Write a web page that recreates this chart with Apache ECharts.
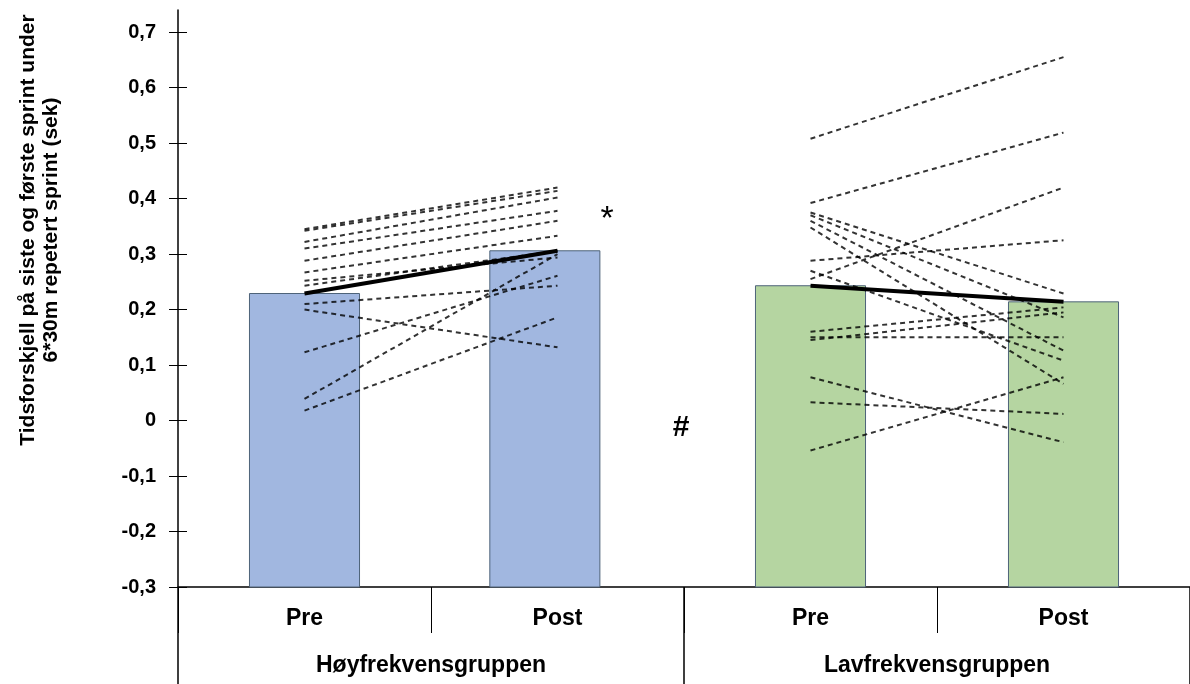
<!DOCTYPE html>
<html>
<head>
<meta charset="utf-8">
<script src="https://cdn.jsdelivr.net/npm/echarts@6/dist/echarts.min.js"></script>
<style>
  html, body { margin: 0; padding: 0; background: #ffffff; }
  #chart { width: 1190px; height: 684px; }
</style>
</head>
<body>
<div id="chart"></div>
<script>
// Sprint-time difference (last minus first sprint, 6*30 m RSA), pre vs post, two training groups
const categories = ['Pre', 'Post', 'Pre', 'Post'];
const groups = ['Høyfrekvensgruppen', 'Lavfrekvensgruppen'];
const yTicks = [-0.3, -0.2, -0.1, 0, 0.1, 0.2, 0.3, 0.4, 0.5, 0.6, 0.7];

// group means: Høy pre, Høy post, Lav pre, Lav post
const groupMeans = [0.229, 0.306, 0.243, 0.214];

// individual subjects, high-frequency group
const hoyPre  = [0.345, 0.342, 0.322, 0.310, 0.288, 0.267, 0.252, 0.243, 0.210, 0.200, 0.123, 0.039, 0.018];
const hoyPost = [0.420, 0.414, 0.402, 0.378, 0.360, 0.333, 0.294, 0.306, 0.243, 0.132, 0.261, 0.300, 0.186];

// individual subjects, low-frequency group
const lavPre  = [0.508, 0.392, 0.255, 0.288, 0.375, 0.370, 0.360, 0.348, 0.270, 0.160, 0.150, 0.145, 0.078, 0.033, -0.054];
const lavPost = [0.655, 0.519, 0.420, 0.325, 0.229, 0.186, 0.126, 0.066, 0.108, 0.204, 0.150, 0.195, -0.039, 0.012, 0.078];

const Y_MIN = -0.3;
const Y_MAX = 0.74;
const FONT = '"Liberation Sans", Arial, sans-serif';
const barColors = ['#a1b7e0', '#a1b7e0', '#b5d5a1', '#b5d5a1'];
const barBorder = '#4e6379';
// horizontal nudge of each column, as a fraction of the category band
const columnNudge = [0, -0.05, 0, 0];

const chart = echarts.init(document.getElementById('chart'), null, { renderer: 'canvas' });

function subjectSeries(pre, post, leftGroup) {
  return pre.map((p, i) => ({
    type: 'line',
    xAxisIndex: 0,
    yAxisIndex: 0,
    data: leftGroup ? [p, post[i], '-', '-'] : ['-', '-', p, post[i]],
    symbol: 'none',
    silent: true,
    z: 4,
    lineStyle: { color: 'rgba(0,0,0,0.8)', width: 2, type: [5, 4] }
  }));
}

// columns rise from the bottom of the value axis (where the category axis crosses)
function renderColumn(params, api) {
  const idx = api.value(0);
  const top = api.coord([idx, api.value(1)]);
  const base = api.coord([idx, Y_MIN]);
  const band = api.size([1, 0])[0];
  const w = band * 0.435;
  const cx = top[0] + band * columnNudge[idx];
  return {
    type: 'rect',
    shape: { x: cx - w / 2, y: top[1], width: w, height: base[1] - top[1] },
    style: { fill: barColors[idx], stroke: barBorder, lineWidth: 1 }
  };
}

const series = [
  {
    type: 'custom',
    xAxisIndex: 0,
    yAxisIndex: 0,
    renderItem: renderColumn,
    z: 2,
    silent: true,
    encode: { x: 0, y: 1 },
    data: groupMeans.map((v, i) => [i, v])
  },
  ...subjectSeries(hoyPre, hoyPost, true),
  ...subjectSeries(lavPre, lavPost, false),
  {
    type: 'line', xAxisIndex: 0, yAxisIndex: 0, symbol: 'none', silent: true, z: 5,
    data: [groupMeans[0], groupMeans[1], '-', '-'],
    lineStyle: { color: '#000', width: 4 }
  },
  {
    type: 'line', xAxisIndex: 0, yAxisIndex: 0, symbol: 'none', silent: true, z: 5,
    data: ['-', '-', groupMeans[2], groupMeans[3]],
    lineStyle: { color: '#000', width: 4 }
  }
];

const fmt = v => (v === 0 ? '0' : v.toFixed(1).replace('.', ','));

chart.setOption({
  animation: false,
  backgroundColor: '#ffffff',
  grid: { left: 178, right: 0, top: 10, bottom: 97, containLabel: false },
  xAxis: [
    {
      type: 'category',
      data: categories,
      position: 'bottom',
      axisLine: { show: true, onZero: false, lineStyle: { color: '#000', width: 1.5 } },
      axisTick: { show: true, interval: 0, length: 46, lineStyle: { color: '#000', width: 1 } },
      axisLabel: { interval: 0, margin: 20, color: '#000', fontFamily: FONT, fontWeight: 'bold', fontSize: 23 },
      splitLine: { show: false }
    },
    {
      type: 'category',
      data: groups,
      position: 'bottom',
      axisLine: { show: false, onZero: false },
      axisTick: { show: true, interval: 0, length: 97, lineStyle: { color: '#000', width: 1.5 } },
      axisLabel: { interval: 0, margin: 67, color: '#000', fontFamily: FONT, fontWeight: 'bold', fontSize: 23 },
      splitLine: { show: false }
    }
  ],
  yAxis: [
    {
      type: 'value',
      min: Y_MIN,
      max: Y_MAX,
      position: 'left',
      axisLine: { show: true, onZero: false, lineStyle: { color: '#000', width: 1.5 } },
      axisTick: { show: true, length: 9, customValues: yTicks, lineStyle: { color: '#000', width: 1 } },
      axisLabel: { customValues: yTicks, formatter: fmt, margin: 22, color: '#000', fontFamily: FONT, fontWeight: 'bold', fontSize: 20 },
      splitLine: { show: false }
    },
    {
      type: 'value',
      min: Y_MIN,
      max: Y_MAX,
      position: 'left',
      axisLine: { show: false, onZero: false },
      axisTick: { show: true, inside: true, length: 9, customValues: yTicks, lineStyle: { color: '#000', width: 1 } },
      axisLabel: { show: false },
      splitLine: { show: false }
    }
  ],
  graphic: [
    {
      type: 'text',
      x: 40,
      y: 230,
      rotation: Math.PI / 2,
      style: {
        text: 'Tidsforskjell på siste og første sprint under\n6*30m repetert sprint (sek)',
        font: 'bold 21px ' + FONT,
        fill: '#000',
        align: 'center',
        verticalAlign: 'middle',
        lineHeight: 23
      }
    },
    {
      type: 'text', x: 607, y: 220,
      style: { text: '*', font: '34px ' + FONT, fill: '#000', align: 'center', verticalAlign: 'middle' }
    },
    {
      type: 'text', x: 681, y: 428,
      style: { text: '#', font: 'bold 30px ' + FONT, fill: '#000', align: 'center', verticalAlign: 'middle' }
    }
  ],
  series: series
});
</script>
</body>
</html>
